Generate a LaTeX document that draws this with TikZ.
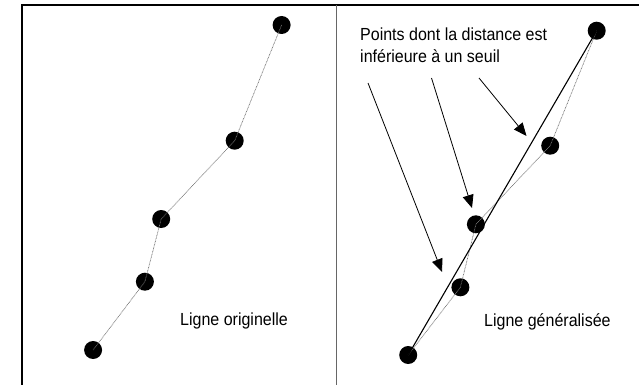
\documentclass[tikz,border=0pt]{standalone}
\usepackage{fontspec}
\setmainfont{Liberation Sans}[FakeStretch=0.915]
\usetikzlibrary{arrows.meta}
\begin{document}
\begin{tikzpicture}[x=1pt,y=-1pt,
  dot/.style={circle,fill=black,inner sep=0pt,minimum size=18pt},
  origline/.style={draw=black!55,line width=0.7pt,dash pattern=on 0.8pt off 0.7pt},
  genline/.style={draw=black,line width=1.1pt},
  pointer/.style={draw=black,line width=0.8pt,-{Triangle[length=13pt,width=11pt]}},
  label/.style={font=\fontsize{17.5}{21.5}\selectfont,inner sep=0pt,anchor=west,align=left}]
  \useasboundingbox (0,0) rectangle (639,385);
  % panel frame
  \draw[line width=1.6pt] (22,385) -- (22,5) -- (639,5);
  \draw[black!60,line width=1.8pt] (336.5,5) -- (336.5,385);

  % left panel: original line
  \node[dot] (a1) at (281.6,25) {};
  \node[dot] (a2) at (234.7,140.7) {};
  \node[dot] (a3) at (161.2,219) {};
  \node[dot] (a4) at (144.9,281.7) {};
  \node[dot] (a5) at (93.1,350) {};
  \draw[origline] (a1.center) -- (a2.center) -- (a3.center) -- (a4.center) -- (a5.center);
  \node[label] (t1) at (180,321) {Ligne originelle};

  % right panel: generalised line
  \node[dot] (b1) at (596.7,30.7) {};
  \node[dot] (b2) at (550.2,145.7) {};
  \node[dot] (b3) at (475.9,224.3) {};
  \node[dot] (b4) at (460.4,287.3) {};
  \node[dot] (b5) at (408.2,355) {};
  \draw[origline] (b1.center) -- (b2.center) -- (b3.center) -- (b4.center) -- (b5.center);
  \draw[genline] (b5.center) -- (b1.center);
  \node[label] (t2) at (484,322) {Ligne généralisée};

  % annotation and pointers
  \node[label,anchor=north west] (t3) at (360,28) {Points dont la distance est\\inférieure à un seuil};
  \coordinate (s1) at (368,83);
  \coordinate (e1) at (442,272);
  \coordinate (s2) at (431.5,78);
  \coordinate (e2) at (472,208);
  \coordinate (s3) at (479,78);
  \coordinate (e3) at (526.5,136);
  \draw[pointer] (s1) -- (e1);
  \draw[pointer] (s2) -- (e2);
  \draw[pointer] (s3) -- (e3);
\end{tikzpicture}
\end{document}
